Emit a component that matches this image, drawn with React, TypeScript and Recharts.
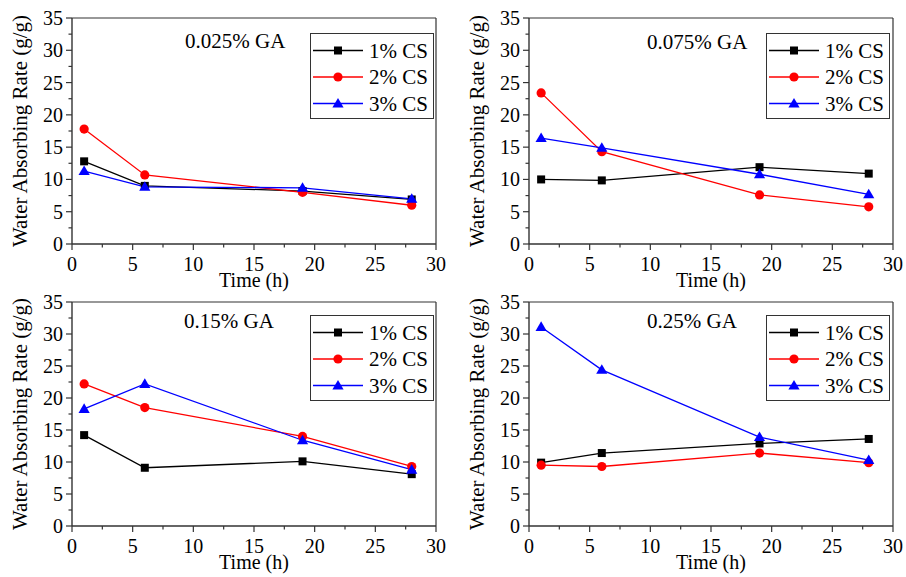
import React from 'react';
import { LineChart, Line, XAxis, YAxis, ReferenceLine, Legend } from 'recharts';

// ---------- data ----------
const timeHours = [1, 6, 19, 28];
const seriesNames = ['1% CS', '2% CS', '3% CS'];
const panelTitles = ['0.025% GA', '0.075% GA', '0.15% GA', '0.25% GA'];
const xTicks = [0, 2.5, 5, 7.5, 10, 12.5, 15, 17.5, 20, 22.5, 25, 27.5, 30];
const yTicks = [0, 2.5, 5, 7.5, 10, 12.5, 15, 17.5, 20, 22.5, 25, 27.5, 30, 32.5, 35];
const xLabel = 'Time (h)';
const yLabel = 'Water Absorbing Rate (g/g)';

const ga0025Cs1 = [12.8, 9.0, 8.2, 6.9];
const ga0025Cs2 = [17.8, 10.7, 8.0, 6.0];
const ga0025Cs3 = [11.3, 8.85, 8.7, 7.0];

const ga0075Cs1 = [10.0, 9.85, 11.9, 10.9];
const ga0075Cs2 = [23.4, 14.3, 7.6, 5.75];
const ga0075Cs3 = [16.4, 14.9, 10.8, 7.7];

const ga015Cs1 = [14.2, 9.1, 10.1, 8.1];
const ga015Cs2 = [22.2, 18.5, 14.0, 9.3];
const ga015Cs3 = [18.3, 22.2, 13.4, 8.8];

const ga025Cs1 = [9.9, 11.4, 12.9, 13.6];
const ga025Cs2 = [9.5, 9.3, 11.4, 9.9];
const ga025Cs3 = [31.1, 24.4, 13.9, 10.3];

// ---------- styles ----------
const FONT = "'Liberation Serif', 'Times New Roman', Times, serif";
const AXIS = '#333';
const COLORS = ['#000000', '#ff0000', '#0000ff'];
const KEYS = ['cs1', 'cs2', 'cs3'];

const buildRows = (a: number[], b: number[], c: number[]) =>
  timeHours.map((t, i) => ({ time: t, cs1: a[i], cs2: b[i], cs3: c[i] }));

const panels = [
  { title: panelTitles[0], data: buildRows(ga0025Cs1, ga0025Cs2, ga0025Cs3), left: 0, top: 0, h: 297,
    margin: { top: 18, right: 17, left: 16, bottom: 9 }, labelOffset: 1, titleX: 185, titleY: 48, legX: 310, legY: 33 },
  { title: panelTitles[1], data: buildRows(ga0075Cs1, ga0075Cs2, ga0075Cs3), left: 453, top: 0, h: 297,
    margin: { top: 18, right: 13, left: 20, bottom: 9 }, labelOffset: 1, titleX: 194, titleY: 49, legX: 313, legY: 33 },
  { title: panelTitles[2], data: buildRows(ga015Cs1, ga015Cs2, ga015Cs3), left: 0, top: 288, h: 289,
    margin: { top: 14, right: 17, left: 16, bottom: 7 }, labelOffset: 1, titleX: 184, titleY: 40, legX: 310, legY: 27 },
  { title: panelTitles[3], data: buildRows(ga025Cs1, ga025Cs2, ga025Cs3), left: 453, top: 288, h: 289,
    margin: { top: 14, right: 13, left: 20, bottom: 7 }, labelOffset: 1, titleX: 194, titleY: 40, legX: 313, legY: 27 },
];

const textStyle = (size: number) => ({ fontFamily: FONT, fontSize: size, fill: '#000' });

const GLOBAL_CSS = `
.serif-fig, .serif-fig * { font-family: 'Liberation Serif', 'Times New Roman', Times, serif !important; }
.serif-fig svg text, .serif-fig svg tspan { font-family: 'Liberation Serif', 'Times New Roman', Times, serif !important; }
`;

// ---------- markers ----------
const Marker = ({ idx, cx, cy }: { idx: number; cx: number; cy: number }) => {
  const c = COLORS[idx];
  if (idx === 0) return <rect x={cx - 4} y={cy - 4} width={8} height={8} fill={c} />;
  if (idx === 1) return <circle cx={cx} cy={cy} r={4.6} fill={c} />;
  return <polygon points={`${cx},${cy - 5.6} ${cx + 5.6},${cy + 4} ${cx - 5.6},${cy + 4}`} fill={c} />;
};

const makeDot = (idx: number) => (p: any) => {
  if (p.cx == null || p.cy == null) return <g key={`d${idx}-${p.index}`} />;
  return (
    <g key={`d${idx}-${p.index}`}>
      <Marker idx={idx} cx={p.cx} cy={p.cy} />
    </g>
  );
};

// ---------- ticks ----------
const XTick = (p: any) => {
  const { x, y, payload } = p;
  const v = payload.value;
  const major = Math.abs(v % 5) < 1e-6;
  return (
    <g>
      <line x1={x} x2={x} y1={y} y2={y + (major ? 6 : 3.5)} stroke={AXIS} strokeWidth={1.2} />
      {major && (
        <text x={x} y={y + 27} textAnchor="middle" fontFamily={FONT} style={textStyle(20)}>
          {v}
        </text>
      )}
    </g>
  );
};

const YTick = (p: any) => {
  const { x, y, payload } = p;
  const v = payload.value;
  const major = Math.abs(v % 5) < 1e-6;
  return (
    <g>
      <line x1={x - (major ? 6 : 3.5)} x2={x} y1={y} y2={y} stroke={AXIS} strokeWidth={1.2} />
      {major && (
        <text x={x - 9} y={y + 7} textAnchor="end" fontFamily={FONT} style={textStyle(20)}>
          {v}
        </text>
      )}
    </g>
  );
};

// ---------- legend ----------
const LegendBox = (props: any) => {
  const payload = (props.payload || []) as any[];
  return (
    <div style={{ width: 124, height: 86, border: `1px solid ${AXIS}`, boxSizing: 'border-box', background: '#fff' }}>
      <svg width={122} height={84} style={{ display: 'block' }}>
        {payload.map((entry: any, i: number) => {
          const idx = KEYS.indexOf(entry.dataKey);
          const cy = 16.5 + i * 26.5;
          return (
            <g key={`leg-${i}`}>
              <line x1={2} x2={52} y1={cy} y2={cy} stroke={COLORS[idx]} strokeWidth={1.3} />
              <Marker idx={idx} cx={27} cy={cy} />
              <text x={58} y={cy + 7} fontFamily={FONT} style={textStyle(21)}>
                {entry.value}
              </text>
            </g>
          );
        })}
      </svg>
    </div>
  );
};

const Panel = ({ cfg }: { cfg: (typeof panels)[number] }) => (
  <div style={{ position: 'absolute', left: cfg.left, top: cfg.top, width: 453, height: cfg.h }}>
    <LineChart width={453} height={cfg.h} data={cfg.data} margin={cfg.margin} style={{ overflow: 'visible', fontFamily: FONT }}>
      <XAxis
        dataKey="time"
        type="number"
        domain={[0, 30]}
        ticks={xTicks}
        interval={0}
        tick={(p: any) => <XTick {...p} />}
        tickLine={false}
        tickSize={0}
        tickMargin={0}
        height={44}
        axisLine={{ stroke: AXIS, strokeWidth: 1.4 }}
        label={{ value: xLabel, position: 'insideBottom', offset: cfg.labelOffset, fontFamily: FONT, style: textStyle(20) }}
      />
      <YAxis
        type="number"
        domain={[0, 35]}
        ticks={yTicks}
        interval={0}
        tick={(p: any) => <YTick {...p} />}
        tickLine={false}
        tickSize={0}
        tickMargin={0}
        width={56}
        axisLine={{ stroke: AXIS, strokeWidth: 1.4 }}
        label={{
          value: yLabel,
          angle: -90,
          position: 'insideLeft',
          offset: 4,
          fontFamily: FONT,
          style: { ...textStyle(21), textAnchor: 'middle' },
        }}
      />
      <ReferenceLine y={35} stroke={AXIS} strokeWidth={1.2} />
      <ReferenceLine x={30} stroke={AXIS} strokeWidth={1.2} />
      {KEYS.map((k, i) => (
        <Line
          key={k}
          dataKey={k}
          name={seriesNames[i]}
          stroke={COLORS[i]}
          strokeWidth={1.3}
          dot={makeDot(i)}
          activeDot={false}
          isAnimationActive={false}
        />
      ))}
      <Legend
        layout="vertical"
        align="center"
        verticalAlign="middle"
        content={(p: any) => <LegendBox {...p} />}
        wrapperStyle={{ position: 'absolute', left: cfg.legX, top: cfg.legY, width: 124, height: 86, margin: 0 }}
      />
    </LineChart>
    <svg
      width={453}
      height={60}
      style={{ position: 'absolute', left: 0, top: 0, pointerEvents: 'none', overflow: 'visible' }}
    >
      <text x={cfg.titleX} y={cfg.titleY} fontFamily={FONT} style={textStyle(21)}>
        {cfg.title}
      </text>
    </svg>
  </div>
);

export default function App() {
  return (
    <div
      className="serif-fig"
      style={{ position: 'absolute', left: 0, top: 0, width: 906, height: 577, background: '#fff', overflow: 'hidden', fontFamily: FONT }}
    >
      <style>{GLOBAL_CSS}</style>
      {panels.map((cfg, i) => (
        <Panel key={i} cfg={cfg} />
      ))}
    </div>
  );
}
